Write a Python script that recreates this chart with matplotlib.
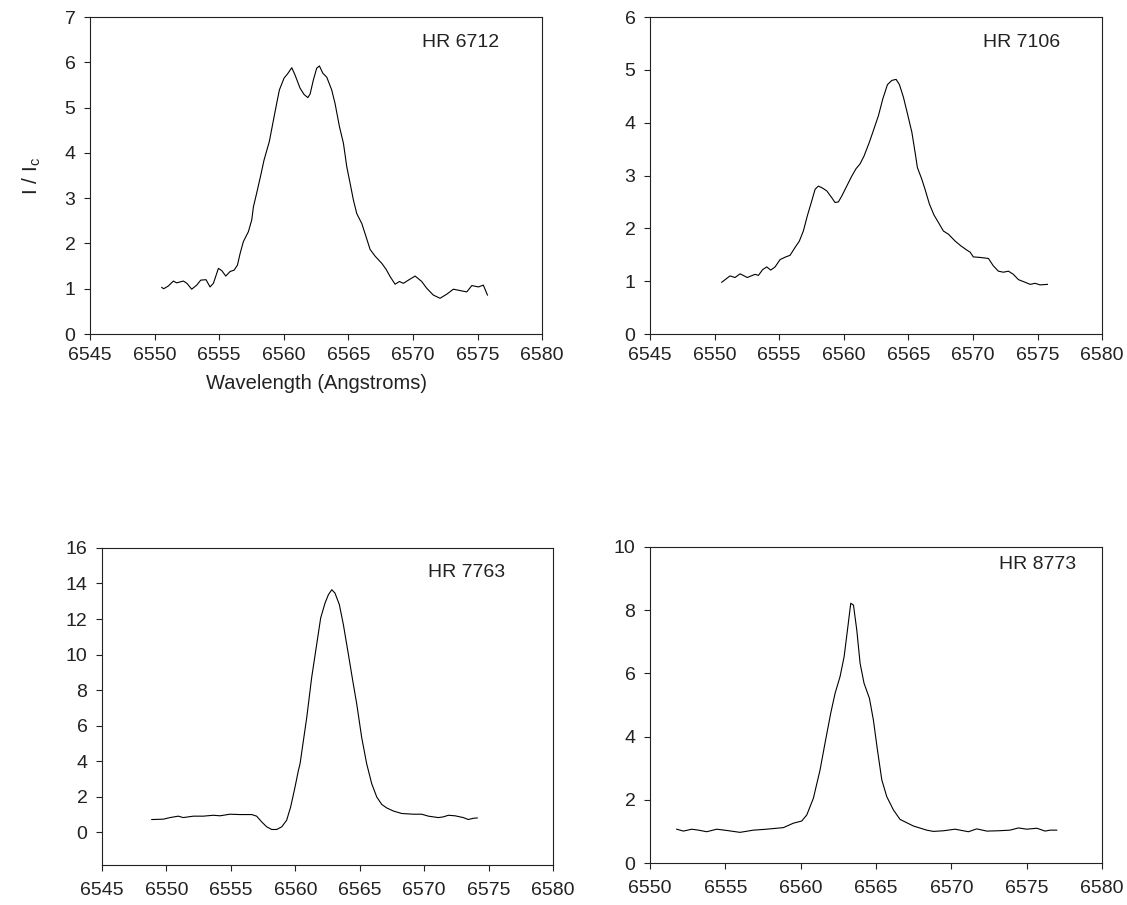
import matplotlib
matplotlib.use('Agg')
import matplotlib.pyplot as plt

plt.rcParams['font.family'] = ['Liberation Sans', 'DejaVu Sans']
plt.rcParams['mathtext.fontset'] = 'custom'
plt.rcParams['mathtext.rm'] = 'Liberation Sans'

# HR 6712 spectrum (wavelength in Angstroms, I / Ic)
hr6712_wl = [6550.55, 6550.7, 6551.06, 6551.45, 6551.7, 6552.23, 6552.5, 6552.87, 6553.26, 6553.57,
             6553.98, 6554.29, 6554.55, 6554.94, 6555.2, 6555.51, 6555.84, 6556.15, 6556.41, 6556.62,
             6556.87, 6557.26, 6557.52, 6557.65, 6557.9, 6558.22, 6558.47, 6558.88, 6559.15, 6559.4,
             6559.66, 6560.02, 6560.28, 6560.62, 6560.87, 6561.26, 6561.57, 6561.86, 6562.04, 6562.29,
             6562.55, 6562.76, 6563.02, 6563.33, 6563.71, 6563.97, 6564.31, 6564.62, 6564.88, 6565.19,
             6565.39, 6565.65, 6566.04, 6566.37, 6566.68, 6567.07, 6567.59, 6567.92, 6568.23, 6568.62,
             6568.95, 6569.26, 6569.65, 6570.17, 6570.68, 6571.07, 6571.58, 6572.1, 6572.62, 6573.13,
             6573.65, 6574.17, 6574.56, 6575.07, 6575.45, 6575.77]
hr6712_flux = [1.03, 1.00, 1.06, 1.17, 1.13, 1.17, 1.12, 0.99, 1.08, 1.19,
               1.20, 1.04, 1.12, 1.45, 1.40, 1.28, 1.38, 1.41, 1.52, 1.78,
               2.04, 2.26, 2.52, 2.81, 3.11, 3.51, 3.84, 4.25, 4.65, 5.02,
               5.39, 5.65, 5.74, 5.88, 5.72, 5.43, 5.29, 5.22, 5.30, 5.61,
               5.87, 5.92, 5.76, 5.67, 5.39, 5.09, 4.58, 4.21, 3.69, 3.25,
               2.96, 2.66, 2.44, 2.15, 1.87, 1.72, 1.56, 1.43, 1.27, 1.10,
               1.16, 1.12, 1.19, 1.28, 1.16, 1.01, 0.86, 0.79, 0.88, 0.99,
               0.96, 0.93, 1.07, 1.04, 1.08, 0.86]

# HR 7106 spectrum
hr7106_wl = [6550.55, 6551.19, 6551.58, 6551.97, 6552.53, 6553.13, 6553.39, 6553.72, 6554.04, 6554.34,
             6554.68, 6555.07, 6555.51, 6555.84, 6556.23, 6556.56, 6556.87, 6557.18, 6557.52, 6557.78,
             6558.03, 6558.37, 6558.68, 6559.07, 6559.32, 6559.58, 6559.84, 6560.23, 6560.62, 6560.95,
             6561.26, 6561.57, 6561.98, 6562.29, 6562.68, 6563.02, 6563.38, 6563.72, 6564.05, 6564.31,
             6564.62, 6564.93, 6565.27, 6565.52, 6565.7, 6566.04, 6566.29, 6566.63, 6566.99, 6567.33,
             6567.71, 6568.1, 6568.62, 6569.06, 6569.52, 6569.78, 6570.03, 6570.55, 6571.2, 6571.58,
             6571.97, 6572.36, 6572.75, 6573.13, 6573.52, 6574.04, 6574.43, 6574.81, 6575.2, 6575.77]
hr7106_flux = [0.98, 1.10, 1.07, 1.14, 1.07, 1.13, 1.11, 1.22, 1.27, 1.21,
               1.27, 1.41, 1.46, 1.49, 1.64, 1.76, 1.95, 2.24, 2.52, 2.74,
               2.80, 2.76, 2.71, 2.58, 2.49, 2.50, 2.61, 2.80, 2.99, 3.13,
               3.22, 3.37, 3.63, 3.85, 4.13, 4.45, 4.72, 4.80, 4.82, 4.72,
               4.48, 4.17, 3.82, 3.44, 3.15, 2.93, 2.74, 2.46, 2.25, 2.11,
               1.95, 1.89, 1.76, 1.67, 1.59, 1.55, 1.46, 1.45, 1.43, 1.29,
               1.19, 1.17, 1.19, 1.13, 1.03, 0.98, 0.94, 0.96, 0.93, 0.94]

# HR 7763 spectrum
hr7763_wl = [6548.86, 6549.76, 6550.28, 6550.92, 6551.31, 6552.09, 6552.86, 6553.64, 6554.16, 6554.93,
             6555.71, 6556.62, 6557.0, 6557.39, 6557.78, 6558.17, 6558.56, 6558.95, 6559.33, 6559.64,
             6559.98, 6560.24, 6560.37, 6560.89, 6561.27, 6561.66, 6561.97, 6562.31, 6562.57, 6562.83,
             6563.08, 6563.42, 6563.73, 6564.12, 6564.46, 6564.77, 6565.15, 6565.54, 6565.93, 6566.32,
             6566.71, 6567.1, 6567.61, 6568.26, 6569.16, 6569.81, 6570.33, 6571.1, 6571.49, 6571.88,
             6572.4, 6573.04, 6573.43, 6573.81, 6574.12]
hr7763_flux = [0.71, 0.73, 0.82, 0.90, 0.82, 0.90, 0.90, 0.95, 0.92, 1.01,
               0.99, 0.99, 0.90, 0.58, 0.30, 0.15, 0.15, 0.30, 0.67, 1.42,
               2.54, 3.47, 3.85, 6.46, 8.70, 10.57, 12.06, 12.90, 13.37, 13.65,
               13.46, 12.81, 11.69, 10.01, 8.52, 7.21, 5.34, 3.85, 2.73, 1.98,
               1.56, 1.36, 1.19, 1.05, 1.01, 1.01, 0.90, 0.82, 0.86, 0.95,
               0.92, 0.82, 0.71, 0.78, 0.80]

# HR 8773 spectrum
hr8773_wl = [6551.77, 6552.21, 6552.77, 6553.21, 6553.76, 6554.43, 6555.09, 6555.97, 6556.86, 6557.74,
             6558.85, 6559.51, 6560.07, 6560.4, 6560.84, 6561.28, 6561.61, 6561.99, 6562.28, 6562.61,
             6562.88, 6563.1, 6563.32, 6563.5, 6563.72, 6563.94, 6564.2, 6564.56, 6564.82, 6565.09,
             6565.38, 6565.71, 6566.15, 6566.59, 6567.48, 6568.36, 6568.8, 6569.47, 6570.24, 6571.13,
             6571.68, 6572.35, 6573.12, 6573.89, 6574.45, 6575.0, 6575.67, 6576.22, 6576.55, 6576.99]
hr8773_flux = [1.07, 1.01, 1.07, 1.04, 0.99, 1.07, 1.03, 0.97, 1.04, 1.07,
               1.12, 1.26, 1.33, 1.52, 2.05, 2.94, 3.79, 4.74, 5.37, 5.90,
               6.53, 7.37, 8.22, 8.16, 7.37, 6.32, 5.69, 5.21, 4.53, 3.58,
               2.63, 2.10, 1.68, 1.38, 1.17, 1.04, 1.00, 1.02, 1.07, 0.99,
               1.08, 1.01, 1.02, 1.04, 1.11, 1.07, 1.10, 1.01, 1.04, 1.04]

fig = plt.figure(figsize=(11.27, 9.05), dpi=100)

# panel boxes [left, bottom, width, height] in figure fraction
ax1 = fig.add_axes([0.0799, 0.6309, 0.4011, 0.3503])
ax2 = fig.add_axes([0.5768, 0.6309, 0.4011, 0.3503])
ax3 = fig.add_axes([0.0905, 0.0442, 0.4002, 0.3503])
ax4 = fig.add_axes([0.5768, 0.0464, 0.4011, 0.3492])

panels = [
    (ax1, hr6712_wl, hr6712_flux, 'HR 6712', (6545, 6580), (0, 7), range(0, 8), (0.735, 0.921), 5.0),
    (ax2, hr7106_wl, hr7106_flux, 'HR 7106', (6545, 6580), (0, 6), range(0, 7), (0.737, 0.921), 5.0),
    (ax3, hr7763_wl, hr7763_flux, 'HR 7763', (6545, 6580), (-1.85, 16), range(0, 17, 2), (0.723, 0.923), 8.5),
    (ax4, hr8773_wl, hr8773_flux, 'HR 8773', (6550, 6580), (0, 10), range(0, 11, 2), (0.772, 0.945), 8.5),
]

for ax, wl, flux, name, xlim, ylim, yticks, txt, xpad in panels:
    ax.plot(wl, flux, color='black', linewidth=0.8)
    ax.set_xlim(*xlim)
    ax.set_ylim(*ylim)
    ax.set_xticks(range(xlim[0], xlim[1] + 1, 5))
    ax.set_yticks(list(yticks))
    ax.tick_params(axis='both', direction='out', length=4, width=0.8, labelsize=14, colors='#222222')
    ax.tick_params(axis='x', pad=xpad)
    ax.tick_params(axis='y', pad=6.5)
    for sp in ax.spines.values():
        sp.set_linewidth(0.8)
        sp.set_color('#222222')
    ax.text(txt[0], txt[1], name, transform=ax.transAxes, fontsize=14,
            ha='left', va='center', color='#222222')

# axis titles only on the first panel
ax1.set_ylabel(r'I / I$_\mathregular{c}$', fontsize=15, color='#222222')
ax1.yaxis.set_label_coords(-0.105, 0.5)
ax1.set_xlabel('Wavelength (Angstroms)', fontsize=14.5, color='#222222')
ax1.xaxis.set_label_coords(0.5, -0.125)

plt.savefig('out.png', dpi=100)
